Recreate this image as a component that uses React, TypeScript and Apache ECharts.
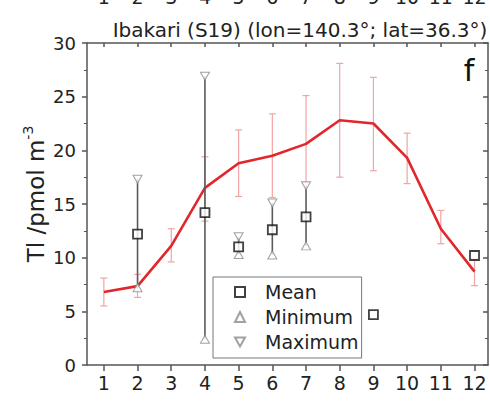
import React, { useEffect, useRef } from "react";
import * as echarts from "echarts";

const months = [1, 2, 3, 4, 5, 6, 7, 8, 9, 10, 11, 12];
const climMean = [6.8, 7.35, 11.1, 16.5, 18.8, 19.5, 20.6, 22.8, 22.5, 19.3, 12.7, 8.7];
const climLow = [5.5, 6.3, 9.6, 13.4, 15.7, 15.6, 17.0, 17.5, 18.1, 16.9, 11.3, 7.4];
const climHigh = [8.1, 8.45, 12.7, 19.4, 21.9, 23.4, 25.1, 28.1, 26.8, 21.6, 14.4, 9.9];

const stationMonths = [2, 4, 5, 6, 7, 9, 12];
const stationMean = [12.2, 14.2, 11.0, 12.6, 13.8, 4.7, 10.2];
const rangeMonths = [2, 4, 5, 6, 7];
const stationMin = [7.2, 2.4, 10.3, 10.25, 11.1];
const stationMax = [17.3, 26.9, 11.95, 15.1, 16.7];

const yTicks = [0, 5, 10, 15, 20, 25, 30];

const titleText = "Ibakari (S19) (lon=140.3°; lat=36.3°)";
const panelLabel = "f";
const yName = "Tl /pmol m";
const yNameSup = "-3";

export default function App() {
  const ref = useRef<HTMLDivElement>(null);
  useEffect(() => {
    const chart = echarts.init(ref.current!, null, { renderer: "svg" });
    const font = "DejaVu Sans";
    const axisColor = "#555";
    const textColor = "#222";
    const axisLineStyle = { color: axisColor, width: 1.5 };

    const lineData = months.map((m, i) => [m, climMean[i]]);
    const errData = months.map((m, i) => [m, climLow[i], climHigh[i]]);
    const rangeData = rangeMonths.map((m, i) => [m, stationMin[i], stationMax[i]]);
    const meanData = stationMonths.map((m, i) => [m, stationMean[i]]);
    const minData = rangeMonths.map((m, i) => [m, stationMin[i]]);
    const maxData = rangeMonths.map((m, i) => [m, stationMax[i]]);

    const makeRender = (color: string, cap: number, width: number) => (params: any, api: any) => {
      const x = api.value(0);
      const lo = api.value(1);
      const hi = api.value(2);
      const p1 = api.coord([x, lo]);
      const p2 = api.coord([x, hi]);
      const style = { stroke: color, lineWidth: width };
      const children: any[] = [
        { type: "line", shape: { x1: p1[0], y1: p1[1], x2: p2[0], y2: p2[1] }, style },
      ];
      if (cap > 0) {
        children.push({ type: "line", shape: { x1: p1[0] - cap, y1: p1[1], x2: p1[0] + cap, y2: p1[1] }, style });
        children.push({ type: "line", shape: { x1: p2[0] - cap, y1: p2[1], x2: p2[0] + cap, y2: p2[1] }, style });
      }
      return { type: "group", children };
    };

    const xMin = 0.5;
    const xMax = 12.4;

    chart.setOption({
      animation: false,
      backgroundColor: "#fff",
      textStyle: { fontFamily: font },
      grid: { left: 87, right: 2, top: 43, bottom: 38, containLabel: false, outerBoundsMode: "none" },
      xAxis: [
        {
          type: "value",
          min: xMin,
          max: xMax,
          position: "bottom",
          axisLine: { show: true, onZero: false, lineStyle: axisLineStyle },
          axisTick: { show: true, inside: false, length: 6, customValues: months, lineStyle: axisLineStyle },
          axisLabel: { customValues: months, fontSize: 19, color: textColor, margin: 8, fontFamily: font },
          splitLine: { show: false },
        },
        {
          type: "value",
          min: xMin,
          max: xMax,
          position: "top",
          axisLine: { show: true, onZero: false, lineStyle: axisLineStyle },
          axisTick: { show: true, inside: true, length: 4, customValues: months, lineStyle: axisLineStyle },
          axisLabel: { show: false },
          splitLine: { show: false },
        },
        {
          type: "value",
          min: xMin,
          max: xMax,
          position: "top",
          offset: 35,
          axisLine: { show: false },
          axisTick: { show: false },
          axisLabel: { customValues: months, fontSize: 19, color: textColor, margin: 2, fontFamily: font },
          splitLine: { show: false },
        },
      ],
      yAxis: [
        {
          type: "value",
          min: 0,
          max: 30,
          interval: 5,
          position: "left",
          axisLine: { show: true, onZero: false, lineStyle: axisLineStyle },
          axisTick: { show: true, inside: false, length: 5, lineStyle: axisLineStyle, customValues: yTicks },
          minorTick: { show: true, splitNumber: 2, length: 3, lineStyle: { color: axisColor, width: 1 } },
          axisLabel: { fontSize: 18, color: textColor, margin: 11, fontFamily: font, customValues: yTicks },
          splitLine: { show: false },
        },
        {
          type: "value",
          min: 0,
          max: 30,
          interval: 5,
          position: "right",
          axisLine: { show: true, onZero: false, lineStyle: axisLineStyle },
          axisTick: { show: true, inside: true, length: 5, lineStyle: axisLineStyle },
          minorTick: { show: true, splitNumber: 2, length: 3, lineStyle: { color: axisColor, width: 1 } },
          axisLabel: { show: false },
          splitLine: { show: false },
        },
      ],
      legend: {
        orient: "vertical",
        left: 213,
        top: 277,
        padding: [5, 3, 6, 21],
        itemGap: 5,
        itemWidth: 10,
        itemHeight: 10,
        borderColor: "#777",
        borderWidth: 1,
        data: [
          { name: "Mean" },
          { name: "Minimum" },
          { name: "Maximum", icon: "path://M0,0 L10,0 L5,9 Z" },
        ],
        textStyle: { fontSize: 19, lineHeight: 20, color: textColor, fontFamily: font, padding: [0, 0, 0, 15] },
      },
      graphic: [
        {
          type: "text",
          x: 300,
          y: 30,
          style: { text: titleText, fontSize: 20, fontFamily: font, fill: textColor, align: "center", verticalAlign: "middle" },
        },
        {
          type: "text",
          x: 469,
          y: 70,
          style: { text: panelLabel, fontSize: 30, fontFamily: font, fill: "#111", align: "center", verticalAlign: "middle" },
        },
        {
          type: "text",
          x: 36,
          y: 194,
          rotation: Math.PI / 2,
          style: {
            text: "{a|" + yName + "}{b|" + yNameSup + "}",
            align: "center",
            verticalAlign: "middle",
            fill: textColor,
            rich: {
              a: { fontSize: 23, fontFamily: font, lineHeight: 30, fill: textColor },
              b: { fontSize: 14, fontFamily: font, lineHeight: 14, verticalAlign: "top", fill: textColor },
            },
          },
        },
      ],
      series: [
        {
          name: "errors",
          type: "custom",
          renderItem: makeRender("#f3a3a3", 3.5, 1.2),
          encode: { x: 0, y: [1, 2] },
          data: errData,
          z: 1,
        },
        {
          name: "climatology",
          type: "line",
          data: lineData,
          showSymbol: false,
          symbol: "none",
          lineStyle: { color: "#e3262b", width: 2.6 },
          z: 2,
        },
        {
          name: "range",
          type: "custom",
          renderItem: makeRender("#5a5a5a", 0, 1.6),
          encode: { x: 0, y: [1, 2] },
          data: rangeData,
          z: 3,
        },
        {
          name: "Minimum",
          type: "scatter",
          symbol: "triangle",
          symbolSize: [9, 8],
          data: minData,
          itemStyle: { color: "#fff", borderColor: "#8a8a8a", borderWidth: 1 },
          z: 4,
        },
        {
          name: "Maximum",
          type: "scatter",
          symbol: "triangle",
          symbolRotate: 180,
          symbolSize: [9, 8],
          data: maxData,
          itemStyle: { color: "#fff", borderColor: "#8a8a8a", borderWidth: 1 },
          z: 4,
        },
        {
          name: "Mean",
          type: "scatter",
          symbol: "rect",
          symbolSize: 9,
          data: meanData,
          itemStyle: { color: "#fff", borderColor: "#111", borderWidth: 1.8 },
          z: 5,
        },
      ],
    });
    return () => chart.dispose();
  }, []);
  return <div ref={ref} style={{ position: "fixed", left: 0, top: 0, width: 490, height: 403 }} />;
}
